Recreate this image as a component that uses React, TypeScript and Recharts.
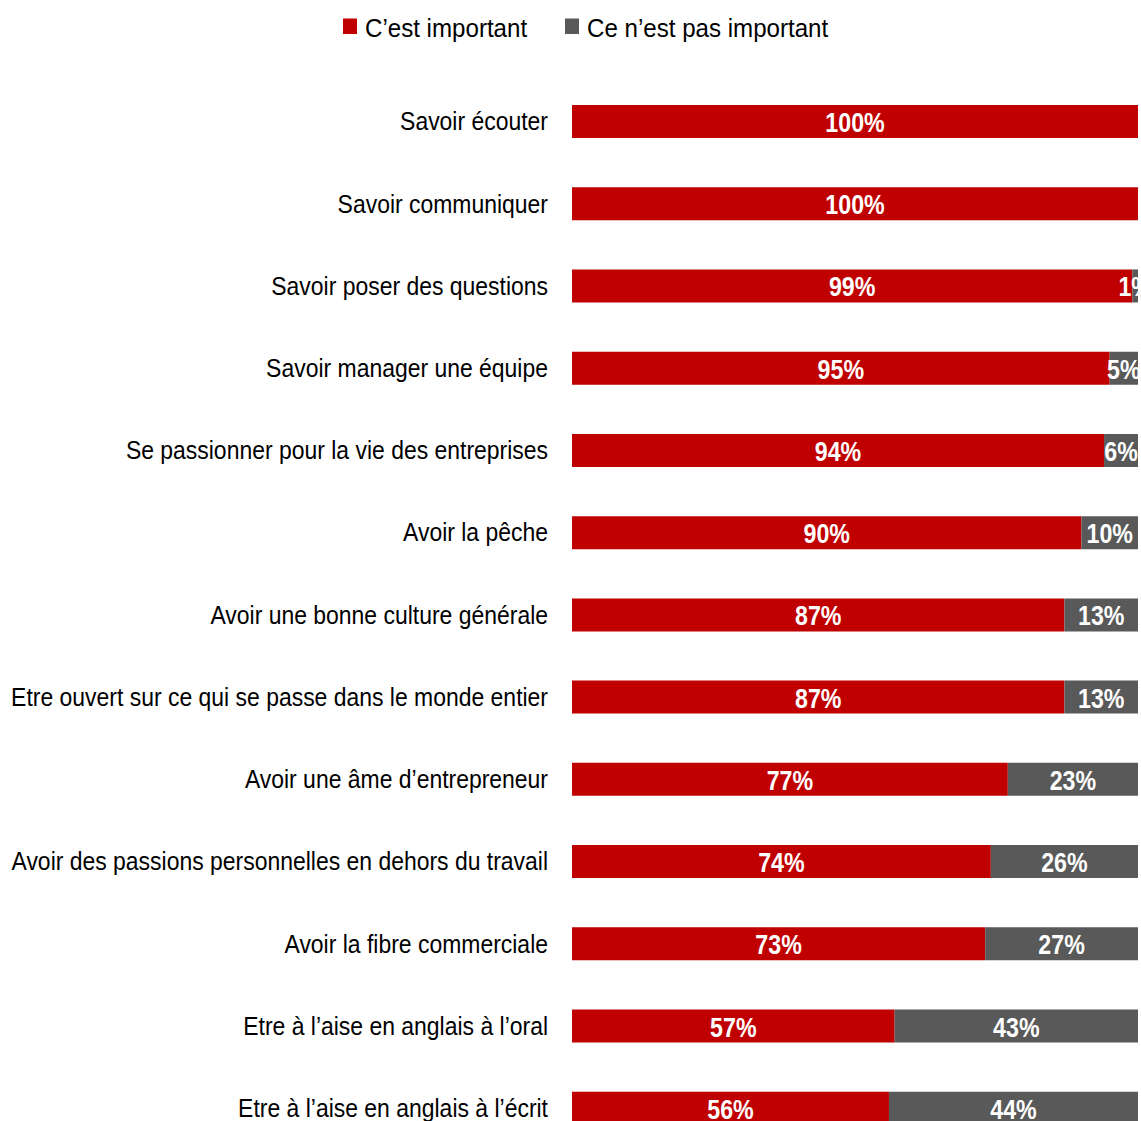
import { BarChart, Bar, XAxis, YAxis, Legend, LabelList } from "recharts";

const categories = [
  "Savoir écouter",
  "Savoir communiquer",
  "Savoir poser des questions",
  "Savoir manager une équipe",
  "Se passionner pour la vie des entreprises",
  "Avoir la pêche",
  "Avoir une bonne culture générale",
  "Etre ouvert sur ce qui se passe dans le monde entier",
  "Avoir une âme d’entrepreneur",
  "Avoir des passions personnelles en dehors du travail",
  "Avoir la fibre commerciale",
  "Etre à l’aise en anglais à l’oral",
  "Etre à l’aise en anglais à l’écrit",
];

const important = [100, 100, 99, 95, 94, 90, 87, 87, 77, 74, 73, 57, 56];
const notImportant = [0, 0, 1, 5, 6, 10, 13, 13, 23, 26, 27, 43, 44];

const RED = "#C00000";
const GREY = "#595959";
const FONT = '"Liberation Sans", Arial, sans-serif';

const data = categories.map((name, i) => ({
  name,
  important: important[i],
  notImportant: notImportant[i],
}));

// narrow look: Arial-like font squeezed horizontally
function CategoryTick({ x, y, payload }: any) {
  return (
    <text
      transform={`translate(${x},${y}) scale(0.9,1)`}
      dy={9.2}
      textAnchor="end"
      fontSize={25.5}
      fontFamily={FONT}
      fill="#000"
    >
      {payload.value}
    </text>
  );
}

function PctLabel({ x, y, width, height, value }: any) {
  if (!value) return null;
  const cx = Number(x) + Number(width) / 2;
  const cy = Number(y) + Number(height) / 2;
  return (
    <text
      transform={`translate(${cx},${cy}) scale(0.86,1)`}
      dy={10.5}
      textAnchor="middle"
      fontSize={27}
      fontWeight="bold"
      fontFamily={FONT}
      fill="#fff"
    >
      {`${value}%`}
    </text>
  );
}

function LegendBox() {
  return (
    <svg width={1141} height={56} style={{ display: "block" }}>
      <rect x={343} y={18.5} width={14} height={15.5} fill={RED} />
      <text transform="translate(365,36.7) scale(0.91,1)" fontSize={26.5} fontFamily={FONT} fill="#000">
        C’est important
      </text>
      <rect x={565} y={18.5} width={14} height={15.5} fill={GREY} />
      <text transform="translate(587,36.7) scale(0.91,1)" fontSize={26.5} fontFamily={FONT} fill="#000">
        Ce n’est pas important
      </text>
    </svg>
  );
}

export default function App() {
  return (
    <div style={{ position: "absolute", left: 0, top: 0 }}>
      <BarChart
        width={1141}
        height={1160}
        data={data}
        layout="vertical"
        barSize={33}
        margin={{ top: 24, right: 3, bottom: 11, left: 0 }}
      >
        <Legend verticalAlign="top" content={() => <LegendBox />} wrapperStyle={{ left: 0, top: 0, width: 1141 }} />
        <XAxis type="number" domain={[0, 100]} hide />
        <YAxis
          type="category"
          dataKey="name"
          width={572}
          axisLine={false}
          tickLine={false}
          tickSize={0}
          tickMargin={24}
          interval={0}
          tick={<CategoryTick />}
        />
        <Bar dataKey="important" stackId="a" fill={RED} isAnimationActive={false}>
          <LabelList dataKey="important" content={<PctLabel />} />
        </Bar>
        <Bar dataKey="notImportant" stackId="a" fill={GREY} isAnimationActive={false}>
          <LabelList dataKey="notImportant" content={<PctLabel />} />
        </Bar>
      </BarChart>
    </div>
  );
}
